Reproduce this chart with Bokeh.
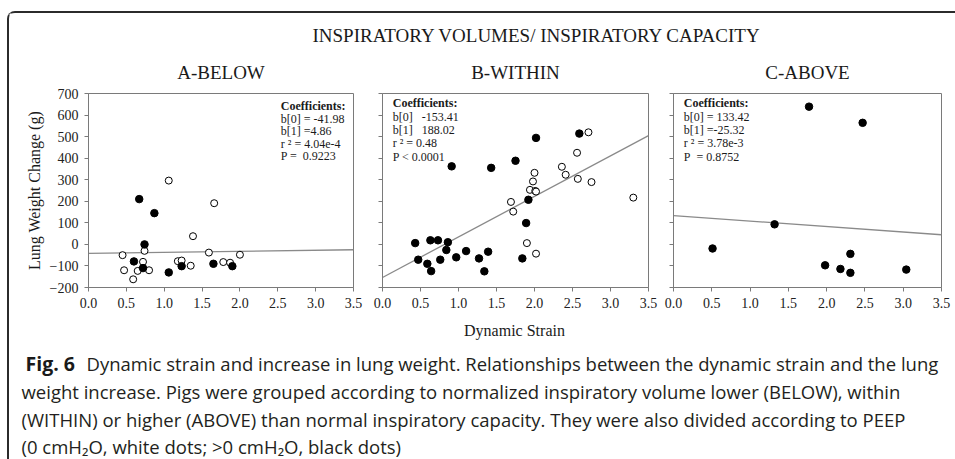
from bokeh.plotting import figure
from bokeh.layouts import column, row
from bokeh.models import Range1d, FixedTicker, PrintfTickFormatter
from bokeh.core.properties import value
from bokeh.embed import file_html
from bokeh.resources import INLINE

# ---------------- data ----------------
main_title = "INSPIRATORY VOLUMES/ INSPIRATORY CAPACITY"
panel_titles = ["A-BELOW", "B-WITHIN", "C-ABOVE"]
x_label = "Dynamic Strain"
y_label = "Lung Weight Change (g)"
x_ticks = [0.0, 0.5, 1.0, 1.5, 2.0, 2.5, 3.0, 3.5]
y_ticks = [-200, -100, 0, 100, 200, 300, 400, 500, 600, 700]

# Panel A (BELOW)
a_open_x = [0.45, 0.47, 0.59, 0.65, 0.72, 0.74, 0.80, 1.06, 1.18, 1.23, 1.35, 1.38, 1.59, 1.66, 1.78, 1.87, 2.00]
a_open_y = [-50, -120, -162, -123, -81, -30, -120, 296, -78, -75, -99, 38, -38, 191, -82, -85, -48]
a_fill_x = [0.60, 0.67, 0.72, 0.74, 0.87, 1.06, 1.23, 1.65, 1.90]
a_fill_y = [-79, 210, -110, 0, 145, -130, -101, -90, -101]
a_coef = ["b[0] = -41.98", "b[1] =4.86", "r ² = 4.04e-4", "P =\u00a0 0.9223"]
a_b0, a_b1 = -41.98, 4.86

# Panel B (WITHIN)
b_open_x = [1.69, 1.72, 1.90, 1.94, 1.98, 2.00, 2.01, 2.02, 2.02, 2.36, 2.41, 2.56, 2.57, 2.71, 2.75, 3.30]
b_open_y = [197, 152, 6, 253, 292, 332, 248, 245, -43, 360, 323, 425, 304, 520, 289, 217]
b_fill_x = [0.43, 0.47, 0.59, 0.63, 0.64, 0.73, 0.76, 0.84, 0.86, 0.91, 0.97, 1.10, 1.27, 1.34,
            1.39, 1.43, 1.75, 1.84, 1.89, 1.92, 2.02, 2.59]
b_fill_y = [6, -71, -90, 19, -124, 19, -71, -26, 10, 362, -60, -31, -65, -125,
            -34, 355, 388, -65, 99, 207, 494, 514]
b_coef = ["b[0]\u00a0\u00a0 -153.41", "b[1]\u00a0\u00a0 188.02", "r ² = 0.48", "P < 0.0001"]
b_b0, b_b1 = -153.41, 188.02

# Panel C (ABOVE)
c_open_x = []
c_open_y = []
c_fill_x = [0.51, 1.32, 1.77, 1.98, 2.18, 2.31, 2.31, 2.47, 3.04]
c_fill_y = [-19, 93, 639, -97, -114, -44, -132, 564, -117]
c_coef = ["b[0] = 133.42", "b[1] =-25.32", "r ² = 3.78e-3", "P\u00a0 = 0.8752"]
c_b0, c_b1 = 133.42, -25.32

caption_bold = "Fig. 6"
caption_lines = [
    "Dynamic strain and increase in lung weight. Relationships between the dynamic strain and the lung",
    "weight increase. Pigs were grouped according to normalized inspiratory volume lower (BELOW), within",
    "(WITHIN) or higher (ABOVE) than normal inspiratory capacity. They were also divided according to PEEP",
    "(0 cmH\u2082O, white dots; >0 cmH\u2082O, black dots)",
]

SERIF = value("Liberation Serif")
SANS = value("Open Sans")
AXIS_GRAY = "#7a7a7a"

# ---------------- top (titles) ----------------
top = figure(width=946, height=72, x_range=Range1d(9, 955), y_range=Range1d(85, 13),
             output_backend="svg", toolbar_location=None, x_axis_type=None, y_axis_type=None,
             min_border=0, outline_line_color=None)
top.text(x=[312], y=[35], text=[main_title], text_font=SERIF, text_font_size="19px",
         text_align="left", text_baseline="middle", text_color="#1a1a1a")
top.text(x=[220.5, 515, 807], y=[71.5, 71.5, 71.5], text=panel_titles, text_font=SERIF,
         text_font_size="19px", text_align="center", text_baseline="middle", text_color="#1a1a1a")


def panel(width, left, right, ox, oy, fx, fy, b0, b1, coef, coef_x, coef_y0, coef_dy, show_y):
    p = figure(width=width, height=233, x_range=Range1d(0, 3.5), y_range=Range1d(-200, 700),
               output_backend="svg", toolbar_location=None,
               min_border_left=left, min_border_right=right, min_border_top=8, min_border_bottom=31,
               outline_line_color=AXIS_GRAY, outline_line_width=1)
    p.grid.visible = False
    p.xaxis.ticker = FixedTicker(ticks=x_ticks)
    p.yaxis.ticker = FixedTicker(ticks=y_ticks)
    p.xaxis.formatter = PrintfTickFormatter(format="%.1f")
    for ax in (p.xaxis, p.yaxis):
        ax.axis_line_color = AXIS_GRAY
        ax.major_tick_line_color = AXIS_GRAY
        ax.minor_tick_line_color = None
        ax.major_tick_in = 0
        ax.major_tick_out = 4
        ax.major_label_text_font = "Liberation Serif"
        ax.major_label_text_font_size = "14px"
        ax.major_label_text_color = "#222222"
        ax.major_label_standoff = 6
    if show_y:
        p.yaxis.axis_label = y_label
        p.yaxis.axis_label_text_font = "Liberation Serif"
        p.yaxis.axis_label_text_font_size = "16px"
        p.yaxis.axis_label_text_font_style = "normal"
        p.yaxis.axis_label_text_color = "#1a1a1a"
        p.yaxis.axis_label_standoff = 4
    else:
        p.yaxis.major_label_text_font_size = "2px"
        p.yaxis.major_label_text_color = None
    xs = [0.0, 3.5]
    p.line(xs, [b0 + b1 * x for x in xs], line_color="#8a8a8a", line_width=1.3)
    if ox:
        p.scatter(ox, oy, marker="circle", size=7, fill_color="white", line_color="black", line_width=1)
    p.scatter(fx, fy, marker="circle", size=7.5, fill_color="black", line_color="black")
    p.text(x=[coef_x], y=[coef_y0], text=["Coefficients:"], text_font=SERIF, text_font_size="12px",
           text_font_style="bold", text_baseline="middle", text_align="left", text_color="#1a1a1a")
    p.text(x=[coef_x] * len(coef), y=[coef_y0 - coef_dy * (i + 1) for i in range(len(coef))],
           text=coef, text_font=SERIF, text_font_size="12px",
           text_baseline="middle", text_align="left", text_color="#1a1a1a")
    return p


pA = panel(358, 79, 14, a_open_x, a_open_y, a_fill_x, a_fill_y, a_b0, a_b1, a_coef, 2.54, 640, 58, True)
pB = panel(293, 15, 12, b_open_x, b_open_y, b_fill_x, b_fill_y, b_b0, b_b1, b_coef, 0.135, 655, 62, False)
pC = panel(295, 13, 14, c_open_x, c_open_y, c_fill_x, c_fill_y, c_b0, c_b1, c_coef, 0.135, 655, 62, False)

# ---------------- bottom (x label + caption) ----------------
cap = figure(width=946, height=141, x_range=Range1d(9, 955), y_range=Range1d(459, 318),
             output_backend="svg", toolbar_location=None, x_axis_type=None, y_axis_type=None,
             min_border=0, outline_line_color=None)
cap.text(x=[514], y=[330], text=[x_label], text_font=SERIF, text_font_size="16px",
         text_align="center", text_baseline="middle", text_color="#1a1a1a")
cap.text(x=[25], y=[362.5], text=[caption_bold], text_font=SANS, text_font_size="19.5px",
         text_font_style="bold", text_align="left", text_baseline="middle", text_color="#1a1a1a")
cap.text(x=[86, 21, 21, 21], y=[362.5, 390.5, 418.5, 446], text=caption_lines, text_font=SANS,
         text_font_size="18.5px", text_align="left", text_baseline="middle", text_color="#231f20")

root = column(top, row(pA, pB, pC), cap,
              styles={"border-top": "2px solid #2b2b2b", "border-left": "2px solid #2b2b2b",
                      "border-top-left-radius": "8px",
                      "margin-top": "11px", "margin-left": "7px"})

open("out.html", "w").write(file_html(root, INLINE))
